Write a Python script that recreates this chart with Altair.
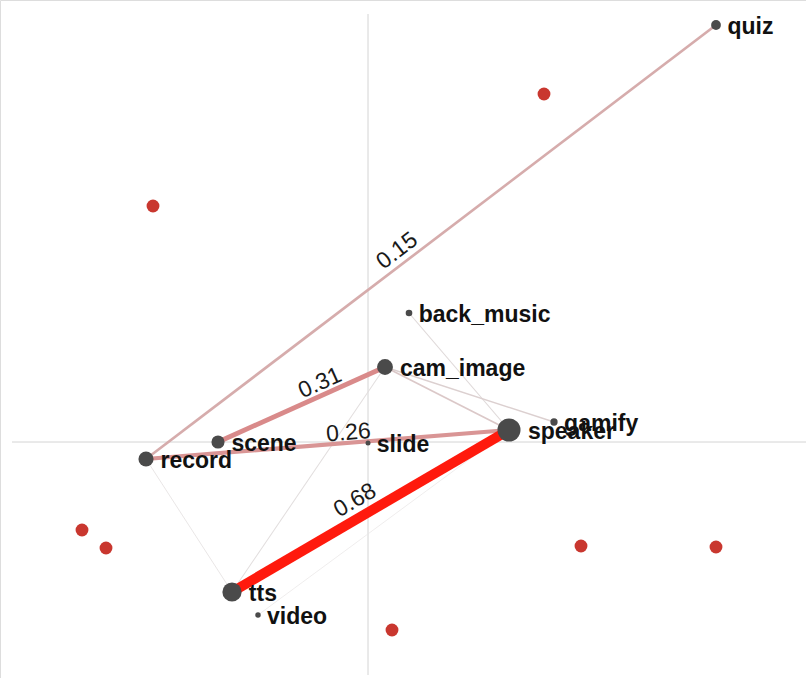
import math
import altair as alt
import pandas as pd

# ---- data -------------------------------------------------------------
node_names = ["quiz", "back_music", "cam_image", "gamify", "speaker",
              "scene", "slide", "record", "tts", "video"]
node_x = [3.48, 0.41, 0.17, 1.86, 1.41, -1.50, 0.00, -2.22, -1.36, -1.10]
node_y = [4.17, 1.29, 0.75, 0.20, 0.12, 0.00, -0.01, -0.17, -1.50, -1.73]

edge_from = ["tts", "scene", "record", "record", "cam_image", "cam_image",
             "back_music", "cam_image", "record", "video"]
edge_to = ["speaker", "cam_image", "speaker", "quiz", "speaker", "gamify",
           "speaker", "tts", "tts", "speaker"]
edge_weight = [0.68, 0.31, 0.26, 0.15, 0.08, 0.06, 0.04, 0.03, 0.02, 0.01]
edge_label = ["0.68", "0.31", "0.26", "0.15", "", "", "", "", "", ""]

supp_x = [-2.15, 1.76, -2.86, -2.62, 2.13, 3.48, 0.24]
supp_y = [2.36, 3.48, -0.88, -1.06, -1.04, -1.05, -1.88]

# ---- layout helpers (style) ------------------------------------------
label_frac = {"0.68": 0.475, "0.31": 0.64, "0.26": 0.56, "0.15": 0.455}
label_off_px = {"0.68": 17, "0.31": 12, "0.26": 10, "0.15": 13.5}
PX = 100.0  # pixels per data unit (both axes)

nodes = pd.DataFrame({"name": node_names, "x": node_x, "y": node_y})
strength = {n: 0.0 for n in node_names}
for a, b, w in zip(edge_from, edge_to, edge_weight):
    strength[a] += w
    strength[b] += w
nodes["strength"] = nodes["name"].map(strength)
smax = max(strength.values())
nodes["size"] = 25 + 505 * nodes["strength"] / smax
nodes["lx"] = nodes["x"] + (nodes["size"].apply(lambda s: math.sqrt(s / math.pi)) + 6) / PX

pos = {n: (x, y) for n, x, y in zip(node_names, node_x, node_y)}
edges = pd.DataFrame({"from": edge_from, "to": edge_to,
                      "w": edge_weight, "label": edge_label})
edges["x"] = edges["from"].map(lambda n: pos[n][0])
edges["y"] = edges["from"].map(lambda n: pos[n][1])
edges["x2"] = edges["to"].map(lambda n: pos[n][0])
edges["y2"] = edges["to"].map(lambda n: pos[n][1])
edges["order"] = edges["w"]

rows = []
for _, e in edges[edges["label"] != ""].iterrows():
    x0, y0, x1, y1 = e["x"], e["y"], e["x2"], e["y2"]
    if x1 < x0:
        x0, y0, x1, y1 = x1, y1, x0, y0
    t = label_frac[e["label"]]
    dx, dy = x1 - x0, y1 - y0
    L = math.hypot(dx, dy)
    nx, ny = -dy / L, dx / L  # normal pointing up
    d = label_off_px[e["label"]] / PX
    ang = -math.degrees(math.atan2(dy, dx)) % 360
    rows.append({"label": e["label"], "x": x0 + t * dx + nx * d,
                 "y": y0 + t * dy + ny * d, "angle": ang})
elabels = pd.DataFrame(rows)

supp = pd.DataFrame({"x": supp_x, "y": supp_y})

xs = alt.Scale(domain=[-3.68, 4.38], nice=False, zero=False)
ys = alt.Scale(domain=[-2.36, 4.42], nice=False, zero=False)
X = lambda f="x": alt.X(f, type="quantitative", scale=xs, axis=None)
Y = lambda f="y": alt.Y(f, type="quantitative", scale=ys, axis=None)

axes_df = pd.DataFrame({"x": [0.0, -3.56], "x2": [0.0, 4.38],
                        "y": [4.28, 0.0], "y2": [-2.33, 0.0]})
axes_layer = alt.Chart(axes_df).mark_rule(color="#d4d4d4", strokeWidth=1).encode(
    x=X(), y=Y(), x2="x2", y2="y2")

edge_layer = alt.Chart(edges).mark_rule(strokeCap="butt").encode(
    x=X(), y=Y(), x2="x2", y2="y2",
    strokeWidth=alt.StrokeWidth("w:Q", scale=alt.Scale(domain=[0, 0.68], range=[0.6, 10]), legend=None),
    color=alt.Color("w:Q", scale=alt.Scale(domain=[0, 0.05, 0.15, 0.31, 0.5, 0.68],
                                           range=["#ececec", "#dcd4d4", "#d6acac", "#d98a8a", "#f04a3a", "#ff1a0d"]),
                    legend=None),
    order="order:Q")

supp_layer = alt.Chart(supp).mark_circle(color="#c9372f", opacity=1, size=165).encode(x=X(), y=Y())

node_layer = alt.Chart(nodes).mark_circle(color="#4a4a4a", opacity=1).encode(
    x=X(), y=Y(),
    size=alt.Size("size:Q", scale=None, legend=None))

node_text = alt.Chart(nodes).mark_text(
    align="left", baseline="middle", dy=2, font="Liberation Sans",
    fontWeight="bold", fontSize=23, color="#111111").encode(
    x=X("lx"), y=Y(), text="name:N")

edge_text = alt.Chart(elabels).mark_text(
    align="center", baseline="middle", font="Liberation Sans",
    fontSize=23, color="#1a1a1a").encode(
    x=X(), y=Y(), text="label:N",
    angle=alt.Angle("angle:Q", scale=None))

chart = alt.layer(axes_layer, edge_layer, supp_layer, node_layer, node_text, edge_text).properties(
    width=806, height=678,
    autosize=alt.AutoSizeParams(type="none"),
    padding=0,
).configure_view(stroke=None).configure(background="white")

chart.save("out.html", embed_options={"renderer": "svg", "actions": False})
